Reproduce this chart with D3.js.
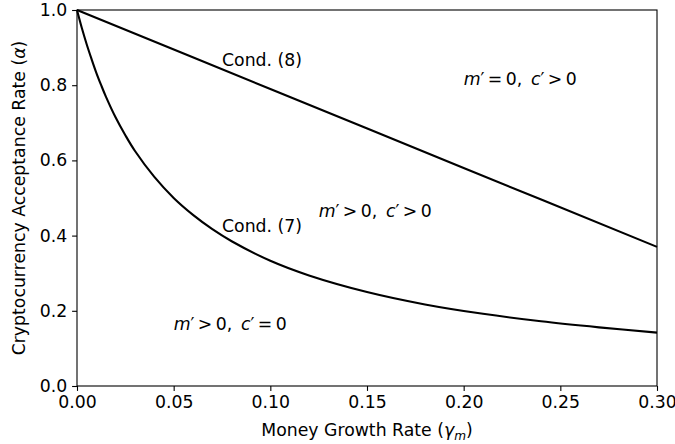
<!DOCTYPE html>
<html>
<head>
<meta charset="utf-8">
<script src="https://cdn.jsdelivr.net/npm/d3@7"></script>
<style>
  body { margin: 0; background: #fff; }
  svg { display: block; font-family: "DejaVu Sans", sans-serif; }
</style>
</head>
<body>
<div id="chart"></div>
<script>
// values
let gamma7 = [0, 0.0025, 0.005, 0.0075, 0.01, 0.0125, 0.015, 0.02, 0.025, 0.03, 0.04, 0.05, 0.06, 0.07, 0.08, 0.10, 0.12, 0.15, 0.18, 0.21, 0.24, 0.27, 0.30];
let alpha7 = [1.0, 0.952, 0.909, 0.87, 0.833, 0.80, 0.769, 0.714, 0.667, 0.625, 0.556, 0.50, 0.455, 0.417, 0.385, 0.333, 0.294, 0.25, 0.217, 0.192, 0.172, 0.156, 0.142];
let gamma8 = [0, 0.10, 0.20, 0.30];
let alpha8 = [1.0, 0.79, 0.58, 0.37];
let xTicks = [0, 0.05, 0.10, 0.15, 0.20, 0.25, 0.30];
let yTicks = [0, 0.2, 0.4, 0.6, 0.8, 1.0];

// annotation labels: [gamma, alpha, text]
let condLabels = [
    [0.075, 0.85, "Cond. (8)"],
    [0.075, 0.41, "Cond. (7)"]
];
// [gamma, alpha, m relation, c relation]
let regionLabels = [
    [0.20, 0.80, "=", ">"],
    [0.125, 0.45, ">", ">"],
    [0.05, 0.15, ">", "="]
];

let width = 675, height = 444;
let margin = {top: 10, right: 18, bottom: 58, left: 77};
let fontSize = 17.3;
let tick = 4.9;

let svg = d3.select("#chart")
    .append("svg")
    .attr("width", width)
    .attr("height", height);

let g = svg.append("g")
    .attr("transform", `translate(${margin.left}, ${margin.top})`);

let w = width - margin.left - margin.right;
let h = height - margin.top - margin.bottom;

let x = d3.scaleLinear().domain([0, 0.30]).range([0, w]);
let y = d3.scaleLinear().domain([0, 1]).range([h, 0]);

let xAxis = g.append("g")
    .attr("transform", `translate(0, ${h})`)
    .call(d3.axisBottom(x).tickValues(xTicks).tickFormat(d3.format(".2f"))
        .tickSize(tick).tickSizeOuter(0).tickPadding(tick));

let yAxis = g.append("g")
    .call(d3.axisLeft(y).tickValues(yTicks).tickFormat(d3.format(".1f"))
        .tickSize(tick).tickSizeOuter(0).tickPadding(tick));

[xAxis, yAxis].forEach(function(a) {
    a.select(".domain").remove();
    a.selectAll("line").attr("stroke", "#000").attr("stroke-width", 1.1);
    a.selectAll("text").attr("fill", "#000")
        .style("font-size", fontSize + "px")
        .style("font-family", "DejaVu Sans");
});
xAxis.selectAll("text").attr("dy", "0.72em");

// frame
g.append("rect")
    .attr("x", 0).attr("y", 0)
    .attr("width", w).attr("height", h)
    .attr("fill", "none")
    .attr("stroke", "#000")
    .attr("stroke-width", 1.1);

let line = d3.line()
    .x(function(d) { return x(d[0]); })
    .y(function(d) { return y(d[1]); })
    .curve(d3.curveCatmullRom);

g.append("path")
    .datum(d3.zip(gamma8, alpha8))
    .attr("d", line)
    .attr("fill", "none")
    .attr("stroke", "#000")
    .attr("stroke-width", 2.1);

g.append("path")
    .datum(d3.zip(gamma7, alpha7))
    .attr("d", line)
    .attr("fill", "none")
    .attr("stroke", "#000")
    .attr("stroke-width", 2.1);

condLabels.forEach(function(d) {
    g.append("text")
        .attr("x", x(d[0]))
        .attr("y", y(d[1]))
        .style("font-size", fontSize + "px")
        .text(d[2]);
});

regionLabels.forEach(function(d) {
    let t = g.append("text")
        .attr("x", x(d[0]))
        .attr("y", y(d[1]))
        .style("font-size", fontSize + "px");
    t.append("tspan").style("font-style", "italic").text("m");
    t.append("tspan").text("\u2032\u2009" + d[2] + "\u20090,\u2002");
    t.append("tspan").style("font-style", "italic").text("c");
    t.append("tspan").text("\u2032\u2009" + d[3] + "\u20090");
});

// axis labels
let xl = svg.append("text")
    .attr("x", margin.left + w / 2)
    .attr("y", 436)
    .attr("text-anchor", "middle")
    .style("font-size", fontSize + "px");
xl.append("tspan").text("Money Growth Rate (");
xl.append("tspan").style("font-style", "italic").text("\u03b3");
xl.append("tspan").style("font-style", "italic").style("font-size", (fontSize * 0.7) + "px")
    .attr("dy", 3.5).text("m");
xl.append("tspan").attr("dy", -3.5).text(")");

let yl = svg.append("text")
    .attr("transform", `translate(25, ${margin.top + h / 2}) rotate(-90)`)
    .attr("text-anchor", "middle")
    .style("font-size", fontSize + "px");
yl.append("tspan").text("Cryptocurrency Acceptance Rate (");
yl.append("tspan").style("font-style", "italic").text("\u03b1");
yl.append("tspan").text(")");
</script>
</body>
</html>
